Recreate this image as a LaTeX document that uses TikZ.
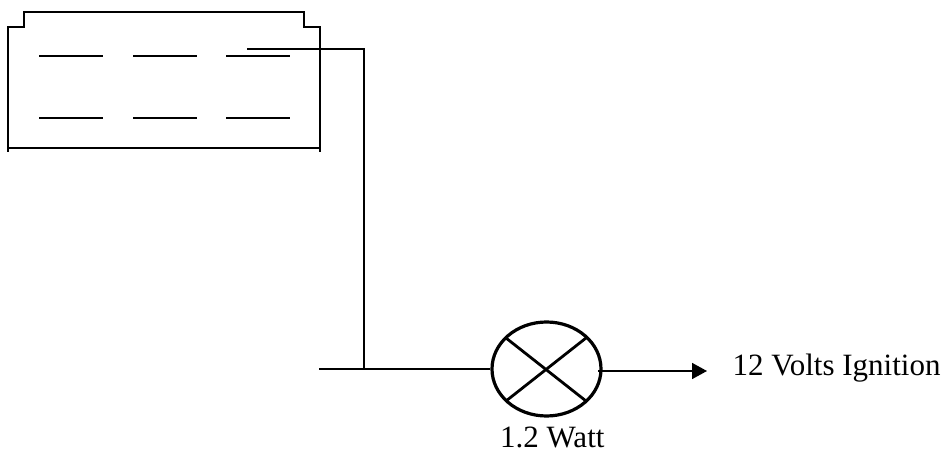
\documentclass[tikz,border=0pt]{standalone}
\usepackage{fontspec}
\setmainfont{Liberation Serif}
\usetikzlibrary{shapes.geometric,arrows.meta}
\tikzset{
  wire/.style={draw=black,line width=1.6bp},
  lamp/.style={draw=black,ellipse,line width=3.2bp,minimum width=109bp,minimum height=94bp,inner sep=0pt},
  cross/.style={draw=black,line width=2.8bp},
  lab/.style={font=\fontsize{31bp}{34bp}\selectfont,inner sep=0pt,text=black},
  bar/.style={draw=black,line width=1.6bp}
}
\begin{document}
\begin{tikzpicture}[x=1bp,y=-1bp]
\useasboundingbox (0,0) rectangle (947,452);
% battery case
\draw[wire] (8,152) -- (8,27) -- (24,27) -- (24,12) -- (304,12) -- (304,27) -- (320,27) -- (320,152);
\draw[wire] (8,148) -- (320,148);
\foreach \yy in {56,118}{
  \foreach \xx in {39,133,226}{
    \draw[bar] (\xx,\yy) -- (\xx+64,\yy);
  }
}
\node[lamp] (L) at (546.5,369) {};
\coordinate (T) at (247,49);
\coordinate (C) at (364,49);
\coordinate (J) at (364,369);
\coordinate (S) at (319,369);
\coordinate (A) at (707,371);
\coordinate (B) at (598,371);
\coordinate (NW) at (506,338);
\coordinate (SE) at (586,401);
\coordinate (NE) at (586,338);
\coordinate (SW) at (506,401);
\draw[wire] (T) -- (C) -- (J);
\draw[wire] (S) -- (J) -- (L.west |- J);
\draw[cross] (NW) -- (SE);
\draw[cross] (NE) -- (SW);
\draw[wire,-{Triangle[length=15bp,width=16bp]}] (B) -- (A);
\node[lab,anchor=base west] (V) at (732.5,376) {12 Volts Ignition};
\node[lab,anchor=base west] (W) at (500,447.5) {1.2 Watt};
\end{tikzpicture}
\end{document}
